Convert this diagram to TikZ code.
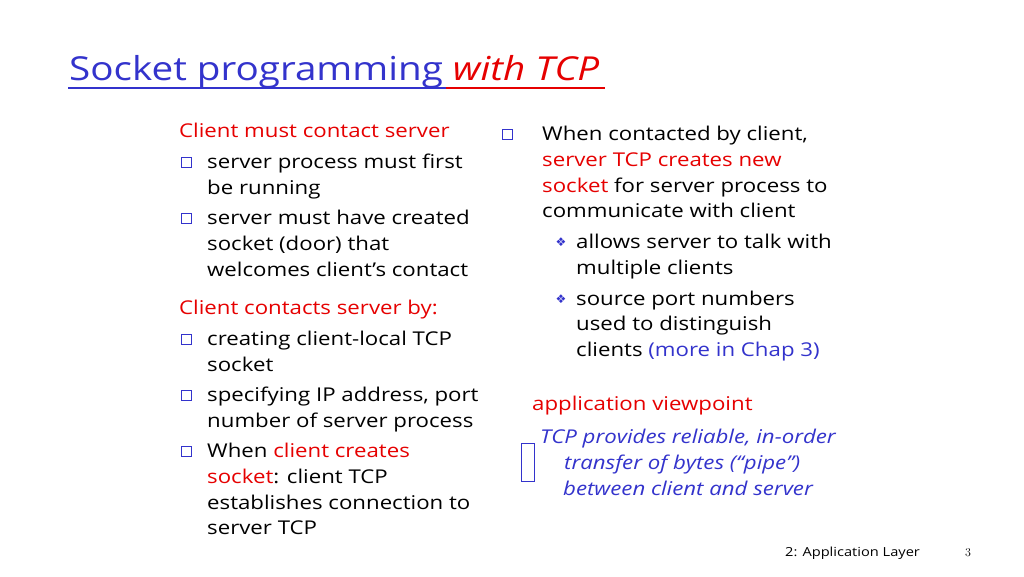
\documentclass[tikz,border=0pt]{standalone}
\usepackage{fontspec}
\setmainfont{Open Sans}[FakeStretch=1.17]
\newfontfamily\djv{DejaVu Sans}
\newfontfamily\lmr{Latin Modern Roman}
\definecolor{sblue}{RGB}{51,51,204}
\definecolor{sred}{RGB}{230,0,0}
\begin{document}
\begin{tikzpicture}[x=1pt,y=-1pt,
  ln/.style={anchor=base west,inner sep=0pt,font=\fontsize{19}{22}\selectfont},
  bul/.style={draw=sblue,line width=1pt,fill=white,minimum size=10pt,inner sep=0pt,anchor=center},
  dia/.style={anchor=center,inner sep=0pt,text=sblue,font=\djv\fontsize{12}{12}\selectfont}]
\useasboundingbox[fill=white] (0,0) rectangle (1024,576);
% title
\node[anchor=base west,inner sep=0pt,font=\fontsize{33}{36}\selectfont] (title) at (69,80)
 {\textcolor{sblue}{Socket programming }\textcolor{sred}{\itshape with TCP}};
\draw[sblue,line width=1.6pt] (68,88) -- (446,88);
\draw[sred,line width=1.6pt] (446,88) -- (605,88);
% left column
\node[ln,text=sred] (l0) at (179,137) {Client must contact server};
\foreach \n/\y in {b1/162,b2/218,b3/339,b4/395,b5/451}
  \node[bul] (\n) at (186,\y) {};
\node[ln] (l1) at (207,168) {server process must first};
\node[ln] (l2) at (207,194) {be running};
\node[ln] (l3) at (207,224) {server must have created};
\node[ln] (l4) at (207,250) {socket (door) that};
\node[ln] (l5) at (207,276) {welcomes client’s contact};
\node[ln,text=sred] (l6) at (179,314) {Client contacts server by:};
\node[ln] (l7) at (207,345) {creating client-local TCP};
\node[ln] (l8) at (207,371) {socket};
\node[ln] (l9) at (207,401) {specifying IP address, port};
\node[ln] (l10) at (207,427) {number of server process};
\node[ln] (l11) at (207,457) {When \textcolor{sred}{client creates}};
\node[ln] (l12) at (207,483) {\textcolor{sred}{socket}: client TCP};
\node[ln] (l13) at (207,509) {establishes connection to};
\node[ln] (l14) at (207,534) {server TCP};
% right column
\node[bul] (b6) at (507,134) {};
\node[ln] (r1) at (542,140) {When contacted by client,};
\node[ln,text=sred] (r2) at (542,166) {server TCP creates new};
\node[ln] (r3) at (542,192) {\textcolor{sred}{socket} for server process to};
\node[ln] (r4) at (542,217) {communicate with client};
\node[dia] (d1) at (561,242) {❖};
\node[dia] (d2) at (561,299) {❖};
\node[ln] (r5) at (576,248) {allows server to talk with};
\node[ln] (r6) at (576,274) {multiple clients};
\node[ln] (r7) at (576,305) {source port numbers};
\node[ln] (r8) at (576,330) {used to distinguish};
\node[ln] (r9) at (576,356) {clients \textcolor{sblue}{(more in Chap 3)}};
\node[ln,text=sred] (av) at (532,410) {application viewpoint};
\node[draw=sblue,line width=1pt,minimum width=13pt,minimum height=38pt,inner sep=0pt,anchor=north west] (box) at (521,443) {};
\node[ln,text=sblue,font=\fontsize{19}{22}\selectfont\itshape] (t1) at (540,443) {TCP provides reliable, in-order};
\node[ln,text=sblue,font=\fontsize{19}{22}\selectfont\itshape] (t2) at (564,469) {transfer of bytes (“pipe”)};
\node[ln,text=sblue,font=\fontsize{19}{22}\selectfont\itshape] (t3) at (563,495) {between client and server};
% footer
\node[anchor=base west,inner sep=0pt,font=\fontsize{12.5}{14}\selectfont] (f1) at (785,556) {2: Application Layer};
\node[anchor=base west,inner sep=0pt,font=\lmr\fontsize{12}{14}\selectfont] (f2) at (965,556) {3};
\end{tikzpicture}
\end{document}
